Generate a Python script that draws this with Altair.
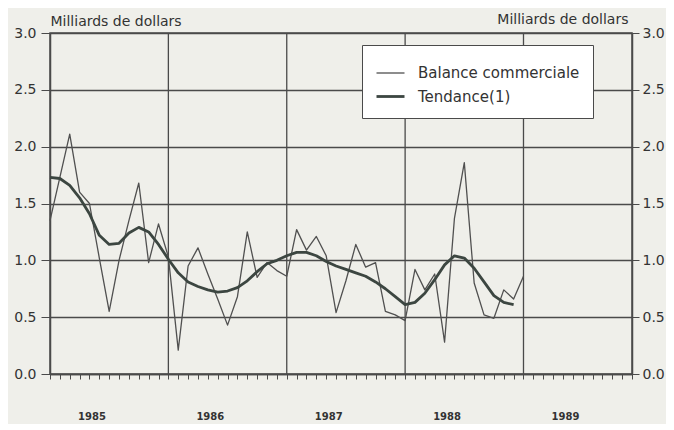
import altair as alt
import pandas as pd

# ---- data ----
months = list(range(49))  # monthly, Jan 1985 .. Jan 1989
balance = [1.35, 1.73, 2.11, 1.60, 1.50, 1.02, 0.55, 1.00, 1.35, 1.68,
           0.98, 1.32, 1.03, 0.21, 0.95, 1.11, 0.88, 0.66, 0.43, 0.68,
           1.25, 0.85, 0.98, 0.91, 0.86, 1.27, 1.09, 1.21, 1.04, 0.54,
           0.82, 1.14, 0.94, 0.98, 0.55, 0.52, 0.47, 0.92, 0.74, 0.88,
           0.28, 1.37, 1.86, 0.80, 0.52, 0.49, 0.74, 0.66, 0.86]
trend_months = list(range(48))
trend = [1.73, 1.72, 1.66, 1.55, 1.41, 1.22, 1.14, 1.15, 1.24, 1.29,
         1.25, 1.14, 1.01, 0.89, 0.81, 0.77, 0.74, 0.72, 0.73, 0.76,
         0.82, 0.90, 0.97, 1.00, 1.04, 1.07, 1.07, 1.04, 0.99, 0.95,
         0.92, 0.89, 0.86, 0.81, 0.75, 0.68, 0.61, 0.63, 0.71, 0.83,
         0.96, 1.04, 1.02, 0.93, 0.81, 0.69, 0.63, 0.61]
years = ["1985", "1986", "1987", "1988", "1989"]
year_grid = [12, 24, 36, 48]
month_ticks = list(range(60))
y_ticks = [0.0, 0.5, 1.0, 1.5, 2.0, 2.5, 3.0]
series_names = ["Balance commerciale", "Tendance(1)"]
axis_title = "Milliards de dollars"

df = pd.concat([
    pd.DataFrame({"mois": months, "valeur": balance, "serie": series_names[0]}),
    pd.DataFrame({"mois": trend_months, "valeur": trend, "serie": series_names[1]}),
], ignore_index=True)
grid_df = pd.DataFrame({"mois": year_grid})

INK = "#4a4a4a"
TXT = "#333333"
FONT = "DejaVu Sans"

xscale = alt.Scale(domain=[0, 59], nice=False, zero=False)
yscale = alt.Scale(domain=[0, 3], nice=False)

label_expr = ("datum.value % 12 == 4 ? " + str(years) +
              "[floor(datum.value / 12)] : ''")

x_axis = alt.Axis(values=month_ticks, labelExpr=label_expr, grid=False,
                  tickSize=5, tickColor=INK, domainColor=INK, domainWidth=1.5,
                  labelPadding=32, labelOffset=2, labelFontSize=10,
                  labelFontWeight="bold", labelColor=TXT, labelFont=FONT,
                  labelOverlap=False, labelFlush=False, title=None)

left_axis = alt.Axis(values=y_ticks, format=".1f", grid=True, gridColor=INK,
                     gridWidth=1.3, tickSize=9, tickColor=INK, domainColor=INK,
                     domainWidth=1.5, labelPadding=5, labelFontSize=14,
                     labelColor=TXT, labelFont=FONT,
                     title=axis_title, titleAngle=0, titleAlign="left",
                     titleX=0, titleY=-8, titleBaseline="alphabetic",
                     titleFontSize=14, titleFontWeight="normal",
                     titleColor=TXT, titleFont=FONT)

right_axis = alt.Axis(orient="right", values=y_ticks, format=".1f", grid=False,
                      tickSize=7, tickColor=INK, domainColor=INK,
                      domainWidth=1.5, labelPadding=3, labelFontSize=14,
                      labelColor=TXT, labelFont=FONT,
                      title=axis_title, titleAngle=0, titleAlign="right",
                      titleX=-4, titleY=-10, titleBaseline="alphabetic",
                      titleFontSize=14, titleFontWeight="normal",
                      titleColor=TXT, titleFont=FONT)

legend = alt.Legend(title=None, orient="none", legendX=312, legendY=12,
                    fillColor="white", strokeColor=INK, padding=13,
                    symbolType="stroke", symbolSize=784, labelOffset=12,
                    rowPadding=0, labelFontSize=15, labelFont=FONT,
                    labelColor=TXT, labelLimit=400)

rules = alt.Chart(grid_df).mark_rule(color=INK, strokeWidth=1.3).encode(
    x=alt.X("mois:Q", scale=xscale, axis=x_axis)
)

lines = alt.Chart(df).mark_line(strokeJoin="round").encode(
    x=alt.X("mois:Q", scale=xscale, axis=x_axis),
    y=alt.Y("valeur:Q", scale=yscale, axis=left_axis),
    color=alt.Color("serie:N", scale=alt.Scale(domain=series_names,
                    range=["#505050", "#3c4641"]), legend=legend),
    strokeWidth=alt.StrokeWidth("serie:N", scale=alt.Scale(domain=series_names,
                                range=[1.3, 2.8]), legend=legend),
)

right = alt.Chart(df).mark_line(opacity=0).encode(
    x=alt.X("mois:Q", scale=xscale, axis=x_axis),
    y=alt.Y("valeur:Q", scale=yscale, axis=right_axis),
    detail="serie:N",
)

chart = alt.layer(rules, lines, right).resolve_scale(
    y="independent"
).properties(
    width=582, height=341,
    autosize=alt.AutoSizeParams(type="none"),
    padding={"left": 42, "top": 25, "right": 34, "bottom": 50},
    background="#efefea",
).configure_view(stroke=INK, strokeWidth=1.5)

chart.save("out.html", embed_options={"renderer": "svg", "actions": False})
